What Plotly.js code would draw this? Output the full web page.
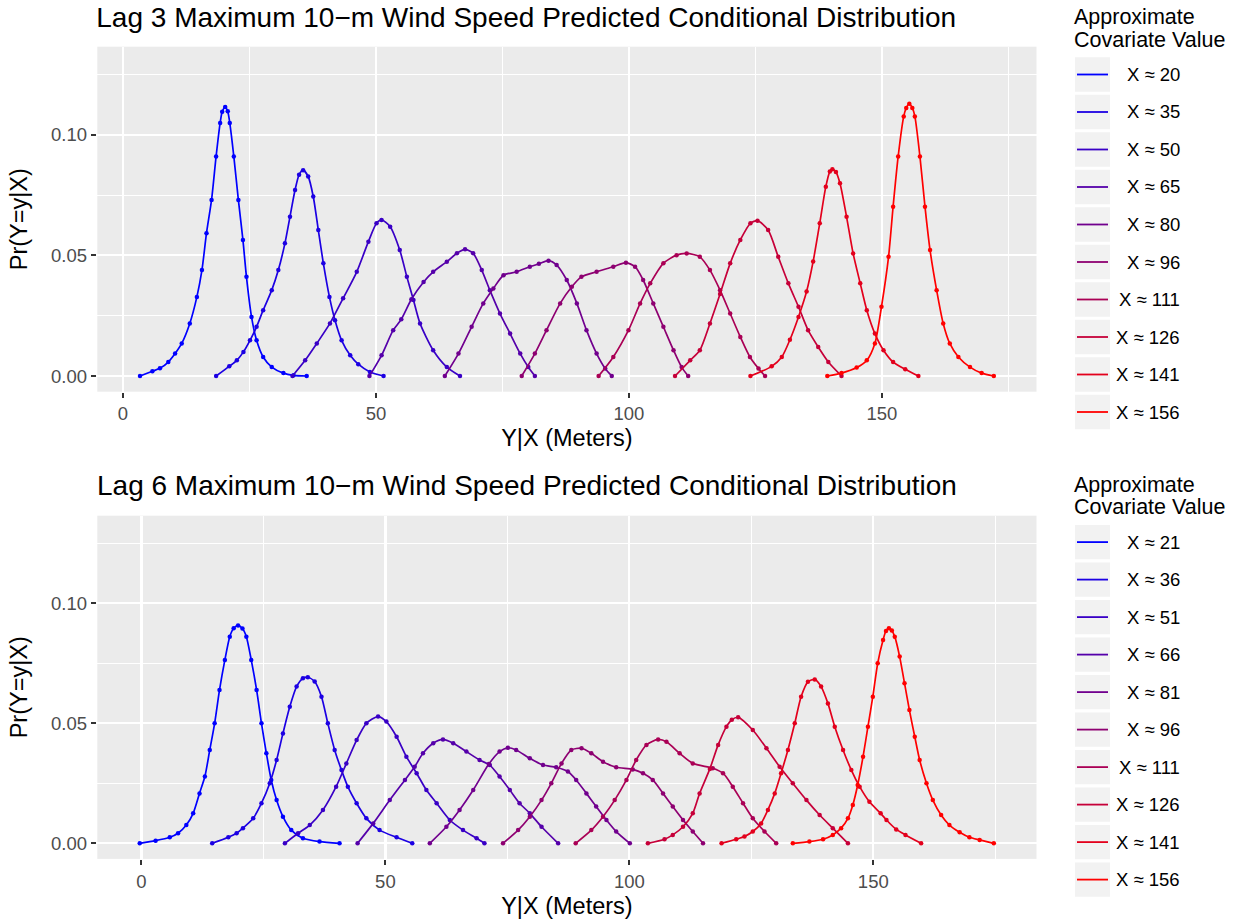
<!DOCTYPE html>
<html>
<head>
<meta charset="utf-8">
<script src="https://cdn.plot.ly/plotly-3.0.1.min.js"></script>
<style>html,body{margin:0;padding:0;background:#fff;}#chart{width:1239px;height:919px;}</style>
</head>
<body>
<div id="chart"></div>
<script>
// ---------------- DATA ----------------
const lag3Title = 'Lag 3 Maximum 10\u2212m Wind Speed Predicted Conditional Distribution';
const lag6Title = 'Lag 6 Maximum 10\u2212m Wind Speed Predicted Conditional Distribution';
const xTitle = 'Y|X (Meters)';
const yTitle = 'Pr(Y=y|X)';
const legendTitle1 = 'Approximate';
const legendTitle2 = 'Covariate Value';

const lag3Labels = ['X \u2248 20','X \u2248 35','X \u2248 50','X \u2248 65','X \u2248 80','X \u2248 96','X \u2248 111','X \u2248 126','X \u2248 141','X \u2248 156'];
const lag6Labels = ['X \u2248 21','X \u2248 36','X \u2248 51','X \u2248 66','X \u2248 81','X \u2248 96','X \u2248 111','X \u2248 126','X \u2248 141','X \u2248 156'];

// Lag 3 curves: y|x values and probabilities
const lag3_x20_y = [3.36,5.8,7.3,8.95,10.3,11.6,13.2,14.6,15.6,16.5,17.5,18.4,19.2,19.6,20.2,20.7,21.1,21.9,22.8,23.7,24.4,25.4,26.4,27.7,29.4,31.7,33.7,36.3];
const lag3_x20_p = [0,0.002,0.0032,0.0058,0.0093,0.0135,0.0218,0.0328,0.0439,0.0592,0.073,0.091,0.1049,0.1095,0.1115,0.1097,0.1049,0.091,0.073,0.0564,0.0411,0.0245,0.0148,0.0079,0.0037,0.0012,0.0003,0];
const lag3_x35_y = [18.4,21,22.5,23.8,25.1,26.4,27.7,29.4,30.7,32,33,34,34.8,35.6,36.6,37.6,38.6,39.6,40.8,41.9,43.2,44.9,46.5,48.8,51.5];
const lag3_x35_p = [0,0.004,0.0065,0.01,0.0148,0.0204,0.0273,0.0356,0.0439,0.055,0.066,0.0771,0.0834,0.0853,0.0827,0.0744,0.0605,0.0467,0.0328,0.0231,0.0148,0.0086,0.0049,0.0017,0];
const lag3_x50_y = [33.5,36,38.3,40.9,43.5,46.2,48.5,50.1,51.1,52.8,54.7,56.1,57.4,58.7,61.3,64,66.6];
const lag3_x50_p = [0,0.0065,0.0135,0.0218,0.0322,0.0432,0.0557,0.0633,0.0647,0.0619,0.0522,0.0411,0.0315,0.0218,0.0107,0.0037,0];
const lag3_x65_y = [48.7,51.1,53.4,55,57,59.4,61.3,64,66,67.6,69.2,70.9,72.5,74.5,76.5,78.5,80.1,81.4];
const lag3_x65_p = [0,0.0086,0.019,0.0235,0.0318,0.039,0.0432,0.0474,0.0509,0.0525,0.0509,0.0439,0.0356,0.0259,0.0176,0.0093,0.0037,0];
const lag3_x80_y = [63.6,66.3,68.9,71.2,73.2,75.2,77.8,80.4,82.2,84.1,85.7,87.7,89.7,91.6,93.6,95.3,96.6];
const lag3_x80_p = [0,0.0093,0.0204,0.0301,0.0363,0.0418,0.0432,0.0453,0.0465,0.0478,0.046,0.0398,0.0301,0.019,0.0093,0.0031,0];
const lag3_x96_y = [78.8,81.4,83.7,86.4,88.7,90.6,93.6,96.9,99.4,101.2,102.8,104.8,106.8,108.8,110.4,111.7];
const lag3_x96_p = [0,0.0093,0.019,0.0301,0.037,0.0411,0.0432,0.0453,0.047,0.0453,0.0398,0.0301,0.0204,0.0107,0.0037,0];
const lag3_x111_y = [94,96.9,99.9,102.2,104.2,106.8,109.4,111.4,114,116,118,120,122,123.9,125.6,126.9];
const lag3_x111_p = [0,0.0079,0.019,0.0301,0.0384,0.0467,0.0501,0.0508,0.0494,0.0439,0.0356,0.0259,0.0162,0.0079,0.0031,0];
const lag3_x126_y = [109.1,112.1,114,116,118,120,122,124,125.4,127.5,129.5,131.5,133.5,135.4,137.4,139.4,142];
const lag3_x126_p = [0,0.0065,0.0107,0.0218,0.034,0.0467,0.0564,0.0633,0.0644,0.0605,0.0494,0.0384,0.0287,0.019,0.012,0.0058,0];
const lag3_x141_y = [124,128.2,130.2,131.8,133.5,135.1,136.4,137.7,138.9,139.7,140.2,140.9,141.7,143,144.3,145.7,147,148.6,150.3,152.2,154.6,157.2];
const lag3_x141_p = [0,0.004,0.0079,0.015,0.0245,0.035,0.0475,0.0633,0.0785,0.0848,0.0857,0.0846,0.0799,0.066,0.0508,0.0384,0.0273,0.0176,0.0107,0.0058,0.0028,0];
const lag3_x156_y = [139.2,142,145,147,148.6,149.9,151.3,152.2,153.2,154.3,154.8,155.4,156,156.5,157.5,158.5,159.5,160.8,162.1,163.4,165.1,167.4,169.7,172.1];
const lag3_x156_p = [0,0.0012,0.0035,0.0065,0.0135,0.0287,0.0494,0.0702,0.091,0.1076,0.1111,0.1129,0.1111,0.1076,0.091,0.0702,0.0522,0.0356,0.0218,0.0135,0.0079,0.0037,0.0012,0];

// Lag 6 curves
const lag6_x21_y = [-0.35,2.9,5.8,7.5,9.2,10.6,11.9,13,14,15,16,17.1,18.1,18.9,19.8,20.7,21.5,22.5,23.6,24.6,25.6,26.6,27.7,29,30.7,33.1,36.5,40.6];
const lag6_x21_p = [0,0.0011,0.0025,0.0042,0.0076,0.0125,0.0208,0.0278,0.0389,0.05,0.0639,0.0764,0.0861,0.0896,0.0907,0.0895,0.0861,0.0764,0.0639,0.05,0.0375,0.0264,0.018,0.0111,0.0055,0.0021,0.0007,0];
const lag6_x36_y = [14.5,17.8,19.5,20.8,22.9,24.6,26.3,27.7,29,30.4,31.8,33.1,34.1,35.5,36.9,38.2,39.6,41,42.3,44.1,46.1,48.8,52.3,55.5];
const lag6_x36_p = [0,0.0025,0.0042,0.0063,0.0104,0.0167,0.025,0.0347,0.0458,0.0569,0.0653,0.0688,0.0692,0.0674,0.0611,0.05,0.0389,0.0305,0.0236,0.0167,0.0104,0.0055,0.0025,0];
const lag6_x51_y = [29.4,32.1,34.5,37.2,39.9,42,44.1,46.1,48.5,50.2,52.3,54.3,56.4,58.4,60.5,63.2,65.9,68.7,70.3];
const lag6_x51_p = [0,0.0042,0.0076,0.0139,0.0236,0.0333,0.043,0.05,0.0528,0.0507,0.0444,0.0361,0.0292,0.0222,0.0167,0.0097,0.0055,0.0021,0];
const lag6_x66_y = [44.3,47.5,50.9,54,56,57.7,59.8,61.8,63.9,66.6,69.3,71.4,73.4,75.5,77.5,79.6,82,85.4];
const lag6_x66_p = [0,0.0083,0.018,0.0264,0.0319,0.0375,0.0417,0.0433,0.0417,0.0382,0.0347,0.0326,0.0278,0.0222,0.0167,0.0125,0.0069,0];
const lag6_x81_y = [59.1,62.5,65.2,68,71.2,73.4,75.1,76.8,79.6,82.3,85,87.4,89.1,91.2,93.2,95.3,97.3,100.1];
const lag6_x81_p = [0,0.0069,0.0139,0.0222,0.033,0.0382,0.0398,0.0389,0.0354,0.0326,0.0317,0.0299,0.0264,0.0208,0.0153,0.0097,0.0049,0];
const lag6_x96_y = [74.1,77.2,79.6,82,84,86.1,88.1,90.2,92.2,94.6,97.3,100.7,102.8,104.8,106.9,108.9,111,113,115.1];
const lag6_x96_p = [0,0.0055,0.0111,0.018,0.025,0.0333,0.0389,0.0396,0.0375,0.034,0.0317,0.0308,0.0292,0.0264,0.0208,0.0153,0.0097,0.0049,0];
const lag6_x111_y = [89,92.2,94.6,97,99.4,101.4,103.5,105.9,107.6,110.3,113,117.1,119.2,121.2,123.3,125.3,127.7,130.1];
const lag6_x111_p = [0,0.0055,0.0111,0.018,0.0264,0.0347,0.041,0.0433,0.0423,0.0375,0.0333,0.0313,0.0292,0.0236,0.0167,0.0104,0.0049,0];
const lag6_x126_y = [103.8,107.2,108.9,111,113,114.4,116.5,118.2,119.9,121,122.3,125.3,128.1,130.8,133.5,136.3,139,141.7,144.8];
const lag6_x126_p = [0,0.0017,0.0035,0.0069,0.0125,0.0208,0.031,0.041,0.0486,0.0515,0.0525,0.0472,0.0396,0.0319,0.025,0.018,0.0118,0.0063,0];
const lag6_x141_y = [118.9,121.9,123.6,125.3,127,128.4,129.8,131.1,132.5,133.9,135.2,136.6,138,139.3,140.7,142.1,143.8,145.5,147.2,149.2,151.5,152.7,154.7,156.6,159.8];
const lag6_x141_p = [0,0.0017,0.0028,0.0049,0.0083,0.0139,0.0208,0.0292,0.0389,0.05,0.0611,0.0673,0.0683,0.0653,0.0583,0.0486,0.0389,0.0305,0.0236,0.0173,0.0125,0.0097,0.0058,0.0035,0];
const lag6_x156_y = [133.5,136.9,139.7,141.7,143.4,144.8,145.8,146.8,147.9,148.9,149.9,150.9,152,152.6,153.2,153.8,154.4,155.4,156.4,157.4,158.5,159.5,160.9,162.2,163.9,165.6,167.7,169.7,171.8,174.7];
const lag6_x156_p = [0,0.0007,0.0017,0.0035,0.0063,0.0104,0.016,0.0243,0.0361,0.0486,0.0611,0.075,0.0847,0.0885,0.0896,0.0887,0.0861,0.0778,0.0667,0.0555,0.0444,0.0347,0.025,0.018,0.0118,0.0076,0.0046,0.0025,0.0014,0];

const lag3Series = [
  [lag3_x20_y, lag3_x20_p],[lag3_x35_y, lag3_x35_p],[lag3_x50_y, lag3_x50_p],[lag3_x65_y, lag3_x65_p],[lag3_x80_y, lag3_x80_p],
  [lag3_x96_y, lag3_x96_p],[lag3_x111_y, lag3_x111_p],[lag3_x126_y, lag3_x126_p],[lag3_x141_y, lag3_x141_p],[lag3_x156_y, lag3_x156_p]
];
const lag6Series = [
  [lag6_x21_y, lag6_x21_p],[lag6_x36_y, lag6_x36_p],[lag6_x51_y, lag6_x51_p],[lag6_x66_y, lag6_x66_p],[lag6_x81_y, lag6_x81_p],
  [lag6_x96_y, lag6_x96_p],[lag6_x111_y, lag6_x111_p],[lag6_x126_y, lag6_x126_p],[lag6_x141_y, lag6_x141_p],[lag6_x156_y, lag6_x156_p]
];

// ---------------- STYLE ----------------
const palette = ['#0000FF','#1C00E3','#3900C6','#5500AA','#71008E','#8E0071','#AA0055','#C60039','#E3001C','#FF0000'];
const W = 1239, H = 919;
const FONT = 'Liberation Sans, Arial, Helvetica, sans-serif';
const fx = v => v / W;
const fy = v => 1 - v / H;

const panelLeft = 97.3, panelRight = 1036.5;
const panels = [
  {top: 46.7, bottom: 391.7, xr: [-5.08, 180.54], off: 0},
  {top: 515.7, bottom: 858.9, xr: [-9.05, 183.45], off: 467.6}
];

const traces = [];
function addPanel(series, axSuffix){
  series.forEach((s, i) => {
    traces.push({
      type: 'scatter', mode: 'lines+markers',
      x: s[0], y: s[1],
      xaxis: 'x' + axSuffix, yaxis: 'y' + axSuffix,
      line: {color: palette[i], width: 1.7, shape: 'spline', smoothing: 0.7},
      marker: {color: palette[i], size: 4.5},
      showlegend: false, hoverinfo: 'skip'
    });
  });
}
addPanel(lag3Series, '');
addPanel(lag6Series, '2');

function xAxis(p, anchor){
  return {
    domain: [fx(panelLeft), fx(panelRight)], range: p.xr, anchor: anchor,
    tick0: 0, dtick: 50, tickmode: 'linear',
    showgrid: true, gridcolor: '#FFFFFF', gridwidth: 2.2,
    minor: {dtick: 25, tick0: 0, showgrid: true, gridcolor: '#FFFFFF', gridwidth: 1.1},
    zeroline: false, showline: false,
    ticks: 'outside', ticklen: 5.5, tickwidth: 2, tickcolor: '#333333',
    tickfont: {family: FONT, size: 18.5, color: '#4D4D4D'},
    title: {text: xTitle, font: {family: FONT, size: 23.5, color: '#000'}, standoff: 6},
    automargin: false, fixedrange: true
  };
}
function yAxis(p, anchor){
  return {
    domain: [fy(p.bottom), fy(p.top)], range: [-0.0065, 0.1365], anchor: anchor,
    tick0: 0, dtick: 0.05, tickmode: 'linear', tickformat: '.2f',
    showgrid: true, gridcolor: '#FFFFFF', gridwidth: 2.2,
    minor: {dtick: 0.025, tick0: 0, showgrid: true, gridcolor: '#FFFFFF', gridwidth: 1.1},
    zeroline: false, showline: false,
    ticks: 'outside', ticklen: 5.5, tickwidth: 2, tickcolor: '#333333',
    tickfont: {family: FONT, size: 18.5, color: '#4D4D4D'},
    title: {text: yTitle, font: {family: FONT, size: 23.5, color: '#000'}, standoff: 16},
    automargin: false, fixedrange: true
  };
}

const shapes = [];
const annotations = [];

// second panel title
annotations.push({
  xref: 'paper', yref: 'paper', x: fx(panelLeft - 2), y: fy(485), xanchor: 'left', yanchor: 'middle',
  text: lag6Title, showarrow: false, font: {family: FONT, size: 28, color: '#000'}
});

// manual legends
function addLegend(labels, off){
  annotations.push({xref:'paper', yref:'paper', x: fx(1072), y: fy(17 + off), xanchor:'left', yanchor:'middle',
    text: legendTitle1, showarrow:false, font:{family: FONT, size: 21.5, color:'#000'}});
  annotations.push({xref:'paper', yref:'paper', x: fx(1072), y: fy(39.5 + off), xanchor:'left', yanchor:'middle',
    text: legendTitle2, showarrow:false, font:{family: FONT, size: 21.5, color:'#000'}});
  labels.forEach((lab, i) => {
    const c = 74.5 + 37.5 * i + off;
    shapes.push({type:'rect', xref:'paper', yref:'paper', x0: fx(1075), x1: fx(1110), y0: fy(c + 17.2), y1: fy(c - 17.2),
      fillcolor:'#F2F2F2', line:{width:0}, layer:'below'});
    shapes.push({type:'line', xref:'paper', yref:'paper', x0: fx(1077), x1: fx(1108), y0: fy(c), y1: fy(c),
      line:{color: palette[i], width: 1.8}});
    annotations.push({xref:'paper', yref:'paper', x: fx(1182), y: fy(c), xanchor:'right', yanchor:'middle',
      text: lab, showarrow:false, font:{family: FONT, size: 18.5, color:'#000'}});
  });
}
addLegend(lag3Labels, 0);
addLegend(lag6Labels, 467.6);

const layout = {
  width: W, height: H,
  margin: {l: 0, r: 0, t: 0, b: 0},
  paper_bgcolor: '#FFFFFF', plot_bgcolor: '#EBEBEB',
  font: {family: FONT, color: '#000'},
  title: {text: lag3Title, xref: 'paper', yref: 'paper', x: fx(panelLeft - 1), xanchor: 'left', y: fy(17.5), yanchor: 'middle',
          font: {family: FONT, size: 28, color: '#000'}, pad: {t:0,b:0,l:0,r:0}},
  xaxis: xAxis(panels[0], 'y'),
  yaxis: yAxis(panels[0], 'x'),
  xaxis2: xAxis(panels[1], 'y2'),
  yaxis2: yAxis(panels[1], 'x2'),
  shapes: shapes,
  annotations: annotations,
  showlegend: false,
  hovermode: false
};

Plotly.newPlot('chart', traces, layout, {staticPlot: true, displayModeBar: false});
</script>
</body>
</html>
